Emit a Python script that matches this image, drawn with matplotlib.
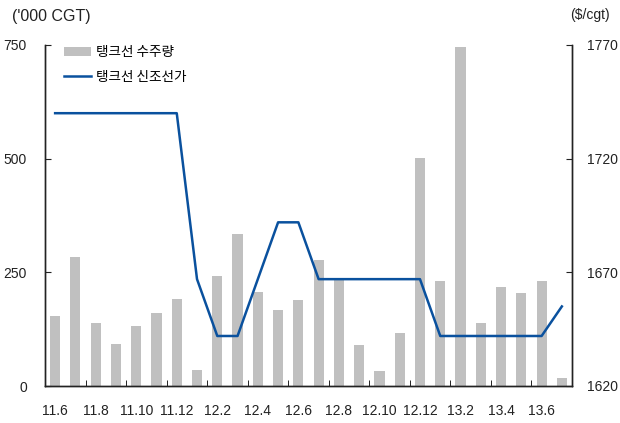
import matplotlib
matplotlib.use("Agg")
import matplotlib.pyplot as plt
import numpy as np

months = ["11.6", "11.7", "11.8", "11.9", "11.10", "11.11", "11.12",
          "12.1", "12.2", "12.3", "12.4", "12.5", "12.6", "12.7", "12.8",
          "12.9", "12.10", "12.11", "12.12",
          "13.1", "13.2", "13.3", "13.4", "13.5", "13.6", "13.7"]

# 탱크선 수주량 ('000 CGT)
orders = [154, 284, 139, 92, 132, 160, 191,
          35, 242, 334, 207, 167, 189, 277, 235,
          90, 33, 117, 501,
          231, 745, 139, 218, 205, 231, 18]

# 탱크선 신조선가 ($/cgt)
price = [1740, 1740, 1740, 1740, 1740, 1740, 1740,
         1667, 1642, 1642, 1667, 1692, 1692, 1667, 1667,
         1667, 1667, 1667, 1667,
         1642, 1642, 1642, 1642, 1642, 1642, 1655]

plt.rcParams["font.family"] = ["Liberation Sans Narrow", "Liberation Sans", "Noto Sans CJK KR", "DejaVu Sans"]
kfont = ["Noto Sans CJK KR", "DejaVu Sans"]

fig = plt.figure(figsize=(6.2, 4.23), dpi=100)
ax = fig.add_axes([45 / 620, 1 - 386 / 423, 527 / 620, 341 / 423])
x = np.arange(len(months))

bars = ax.bar(x, orders, width=0.5, color="#c0c0c0", label="탱크선 수주량", zorder=1)
ax.set_ylim(0, 750)
ax.set_xlim(-0.5, len(months) - 0.5)
ax.set_yticks([0, 250, 500, 750])

ax2 = ax.twinx()
line, = ax2.plot(x, price, color="#0a519e", lw=1.8, label="탱크선 신조선가")
ax2.set_ylim(1620, 1770)
ax2.set_yticks([1620, 1670, 1720, 1770])

ax.set_xticks(x[::2])
ax.set_xticklabels(months[::2])
ax.set_xticks(x[1::2] + 0.5, minor=True)
ax.tick_params(axis="x", which="major", length=0, pad=13, labelsize=10, colors="#222222")
ax.tick_params(axis="x", which="minor", direction="in", length=4)
ax.tick_params(axis="y", direction="in", length=4, labelsize=10, pad=13, colors="#222222")
ax2.tick_params(axis="y", direction="in", length=4, labelsize=10, pad=11, colors="#222222")
for a in (ax, ax2):
    a.spines["top"].set_visible(False)
    for s in ("left", "right", "bottom"):
        a.spines[s].set_color("#222222")
        a.spines[s].set_linewidth(1.0)
for lbl in ax.get_yticklabels() + ax2.get_yticklabels() + ax.get_xticklabels():
    lbl.set_color("#222222")

fig.text(12 / 620, 1 - 17 / 423, "('000 CGT)", fontsize=11.5, va="center", ha="left", color="#222222")
fig.text(610 / 620, 1 - 15 / 423, "($/cgt)", fontsize=10, va="center", ha="right", color="#222222")

leg = ax.legend([bars, line], ["탱크선 수주량", "탱크선 신조선가"], loc="upper left",
                bbox_to_anchor=(0.012, 1.035), frameon=False, prop={"family": kfont, "size": 9.8},
                handlelength=2.0, handletextpad=0.35, labelspacing=0.75)

fig.savefig("out.png", dpi=100)
